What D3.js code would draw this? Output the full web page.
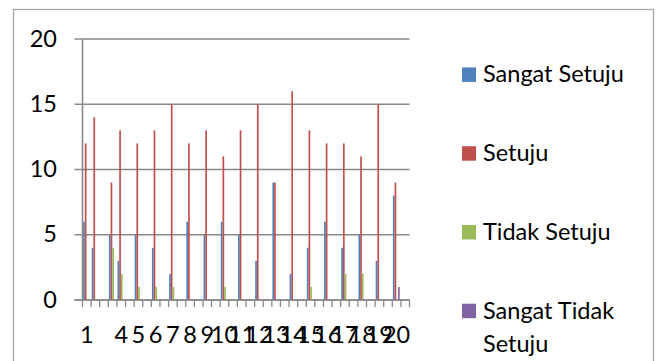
<!DOCTYPE html>
<html>
<head>
<meta charset="utf-8">
<script src="https://cdn.jsdelivr.net/npm/d3@7"></script>
<style>
  html, body { margin: 0; padding: 0; background: #fff; }
  svg { display: block; font-family: Lato, "Open Sans", sans-serif; }
</style>
</head>
<body>
<svg id="chart" width="661" height="361"></svg>
<script>
// Category slots (the sheet has blank rows between most items)
const categoryLabels = ["1","","","","4","","5","","6","","7","","8","","9","","10","","11","","12","","13","","14","","15","","16","","17","","18","","19","","20",""];
const seriesNames = ["Sangat Setuju", "Setuju", "Tidak Setuju", "Sangat Tidak Setuju"];
const sangatSetuju      = [6,4,null,5,3,null,5,null,4,null,2,null,6,null,5,null,6,null,5,null,3,null,9,null,2,null,4,null,6,null,4,null,5,null,3,null,8,null];
const setuju            = [12,14,null,9,13,null,12,null,13,null,15,null,12,null,13,null,11,null,13,null,15,null,9,null,16,null,13,null,12,null,12,null,11,null,15,null,9,null];
const tidakSetuju       = [0,0,null,4,2,null,1,null,1,null,1,null,0,null,0,null,1,null,0,null,0,null,0,null,0,null,1,null,0,null,2,null,2,null,0,null,0,null];
const sangatTidakSetuju = [0,0,null,0,0,null,0,null,0,null,0,null,0,null,0,null,0,null,0,null,0,null,0,null,0,null,0,null,0,null,0,null,0,null,0,null,1,null];
const yTicks = [0, 5, 10, 15, 20];

const colors = ["#4F81BD", "#C0504D", "#9BBB59", "#8064A2"];
const seriesValues = [sangatSetuju, setuju, tidakSetuju, sangatTidakSetuju];

const svg = d3.select("#chart");
const FS = 23.5;

// outer frame
svg.append("rect").attr("x", 13.5).attr("y", 9.5).attr("width", 640).attr("height", 360)
  .attr("fill", "none").attr("stroke", "#a6a6a6").attr("stroke-width", 1.3);

const plotLeft = 82.5, plotRight = 409.5, plotTop = 39, plotBottom = 300;
const x = d3.scaleBand().domain(d3.range(categoryLabels.length)).range([plotLeft, plotRight]).padding(0);
const x1 = d3.scaleBand().domain(d3.range(seriesNames.length)).range([0.6, x.bandwidth() - 1.2]).padding(0);
const y = d3.scaleLinear().domain([0, 20]).range([plotBottom, plotTop]);

// gridlines
svg.append("g").selectAll("line").data(yTicks).join("line")
  .attr("x1", plotLeft - 8).attr("x2", plotRight)
  .attr("y1", d => y(d)).attr("y2", d => y(d))
  .attr("stroke", "#898989").attr("stroke-width", 1.6);

// y axis labels
svg.append("g").selectAll("text").data(yTicks).join("text")
  .attr("x", 57).attr("y", d => y(d) + 7.5)
  .attr("text-anchor", "end").attr("font-size", FS).attr("fill", "#000")
  .text(d => d);

// bars
const bars = svg.append("g");
seriesValues.forEach((vals, si) => {
  bars.append("g").selectAll("rect")
    .data(vals.map((v, i) => ({ i, v })).filter(d => d.v != null && d.v > 0))
    .join("rect")
    .attr("x", d => x(d.i) + x1(si))
    .attr("width", x1.bandwidth())
    .attr("y", d => y(d.v))
    .attr("height", d => y(0) - y(d.v))
    .attr("fill", colors[si]);
});

// y axis line
svg.append("line").attr("x1", plotLeft).attr("x2", plotLeft).attr("y1", plotTop).attr("y2", plotBottom)
  .attr("stroke", "#898989").attr("stroke-width", 1.6);

// x axis line + ticks
svg.append("line").attr("x1", plotLeft - 8).attr("x2", plotRight).attr("y1", plotBottom).attr("y2", plotBottom)
  .attr("stroke", "#898989").attr("stroke-width", 1.6);
const tickPos = d3.range(categoryLabels.length + 1).map(i => plotLeft + i * x.step());
svg.append("g").selectAll("line").data(tickPos).join("line")
  .attr("x1", d => d).attr("x2", d => d).attr("y1", plotBottom).attr("y2", plotBottom + 7)
  .attr("stroke", "#898989").attr("stroke-width", 1.3);

// x labels
svg.append("g").selectAll("text")
  .data(categoryLabels.map((t, i) => ({ t, i })).filter(d => d.t !== ""))
  .join("text")
  .attr("x", d => x(d.i) + x.bandwidth() / 2)
  .attr("y", 342.5)
  .attr("text-anchor", "middle").attr("font-size", FS).attr("fill", "#000")
  .text(d => d.t);

// legend
const legendY = [74.7, 153.5, 232.3, 311];
const lg = svg.append("g");
seriesNames.forEach((name, i) => {
  lg.append("rect").attr("x", 462).attr("y", legendY[i] - 7.3).attr("width", 14).attr("height", 14.5)
    .attr("fill", colors[i]);
  const t = lg.append("text").attr("x", 483).attr("y", legendY[i] + 7.5)
    .attr("font-size", FS).attr("fill", "#000");
  if (name === "Sangat Tidak Setuju") {
    t.append("tspan").attr("x", 483).text("Sangat Tidak");
    t.append("tspan").attr("x", 483).attr("dy", 33.5).text("Setuju");
  } else {
    t.text(name);
  }
});
</script>
</body>
</html>
